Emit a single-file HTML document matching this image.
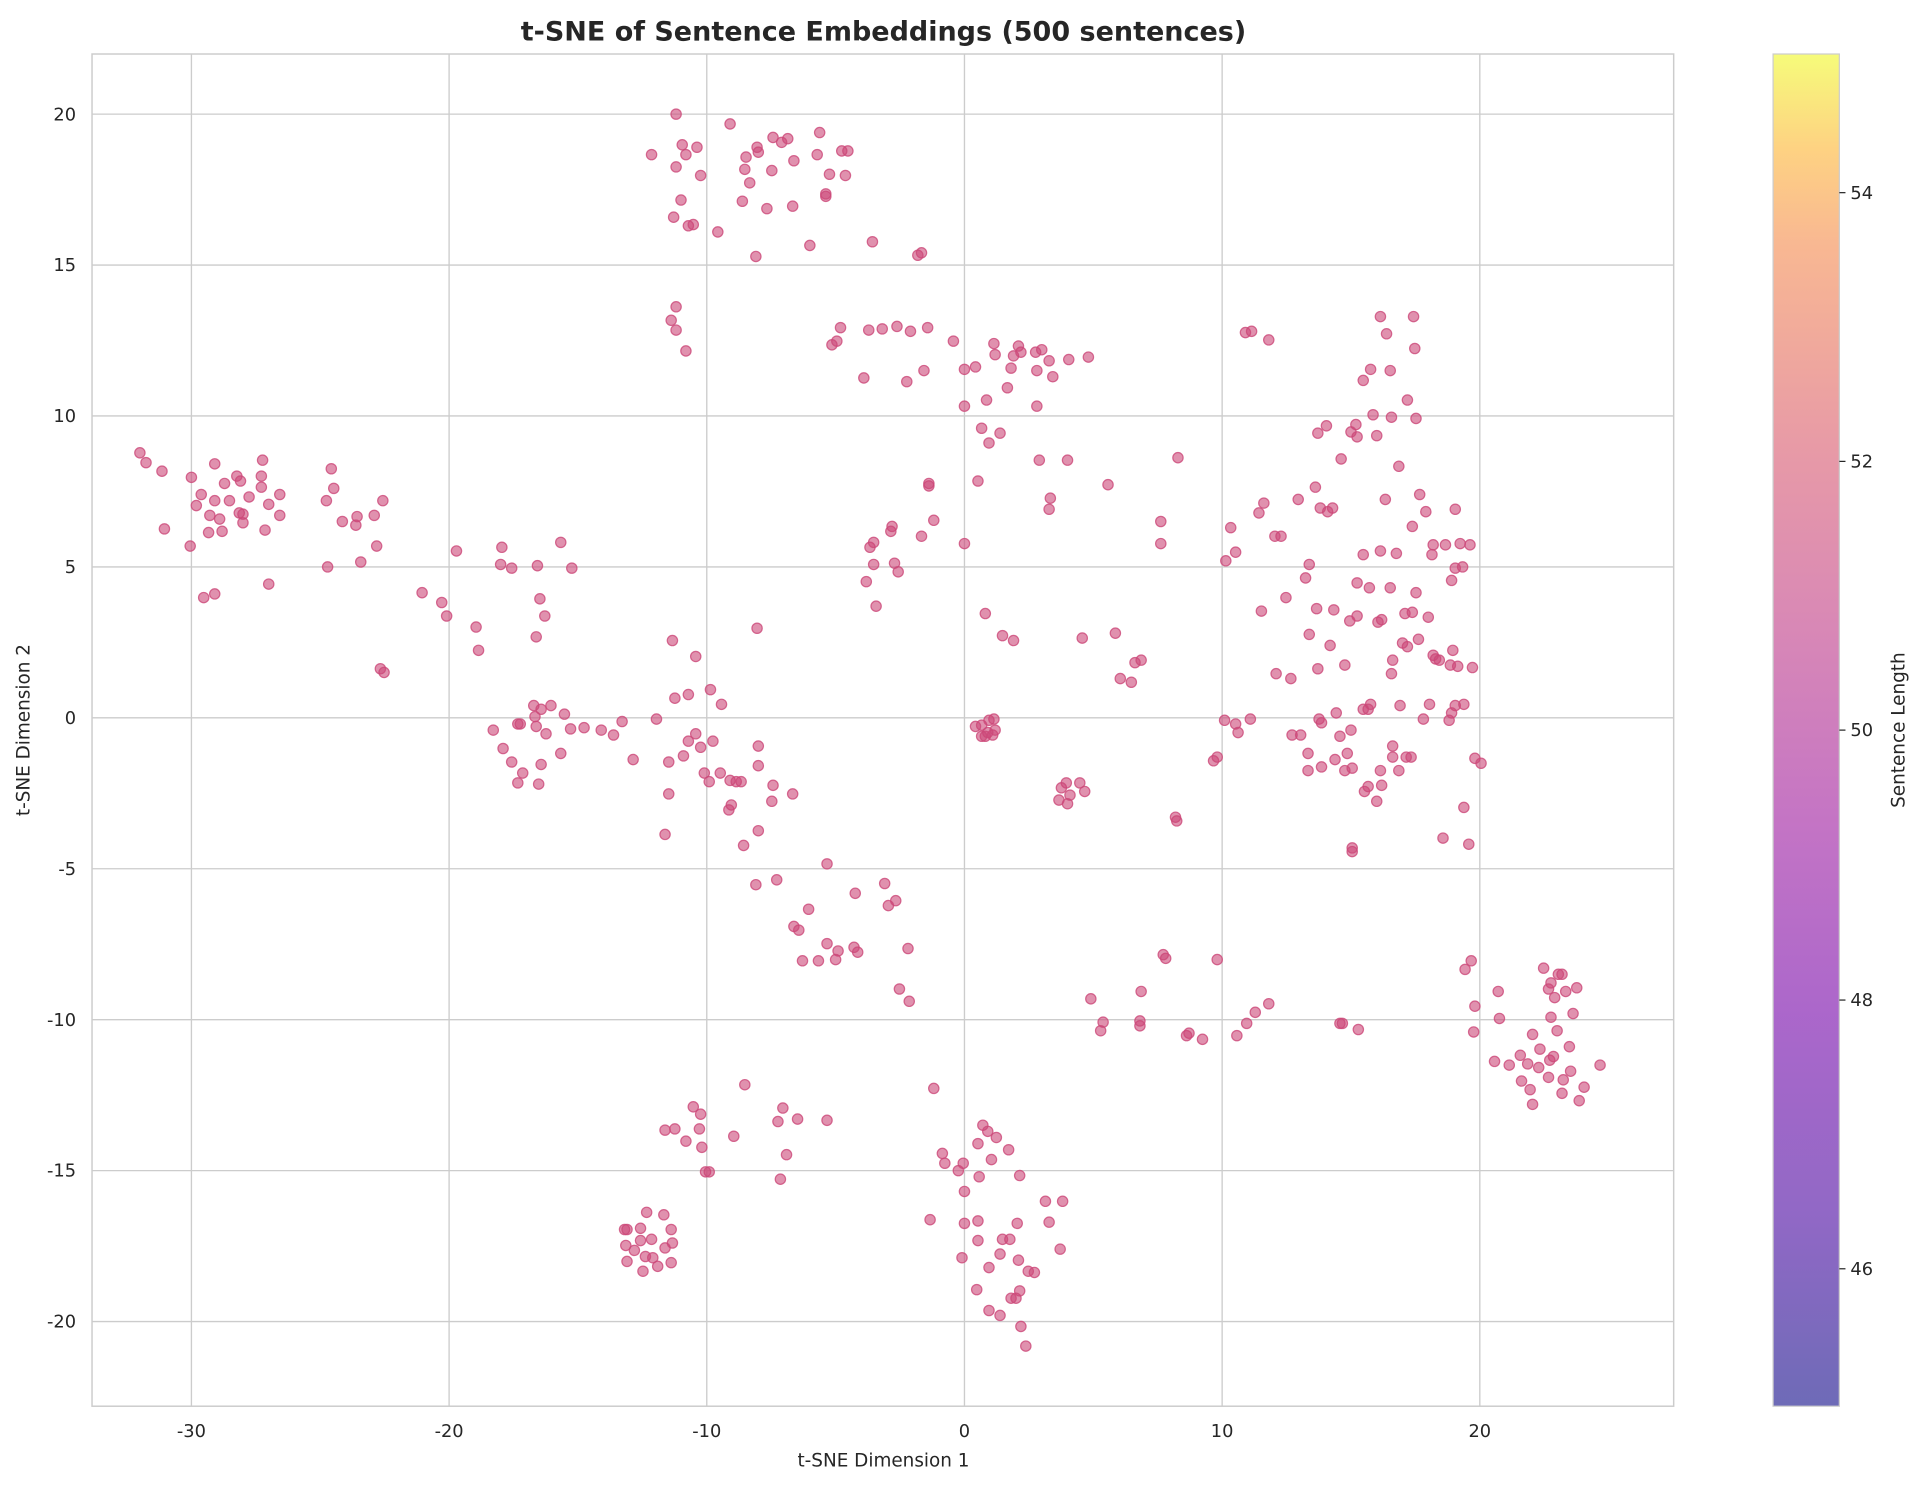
<!DOCTYPE html>
<html><head><meta charset="utf-8"><style>
html,body{margin:0;padding:0;background:#fff;}
svg{display:block;}
text{font-family:"DejaVu Sans","Liberation Sans",sans-serif;fill:#262626;}
</style></head><body>
<svg width="1924" height="1485" viewBox="0 0 1568 1210.2" xmlns="http://www.w3.org/2000/svg">
<defs>
<linearGradient id="pl" x1="0" y1="1" x2="0" y2="0">
<stop offset="0" stop-color="#0d0887"/><stop offset="0.14" stop-color="#47039f"/><stop offset="0.29" stop-color="#7301a8"/><stop offset="0.43" stop-color="#9c179e"/><stop offset="0.57" stop-color="#bd3786"/><stop offset="0.71" stop-color="#d8576b"/><stop offset="0.86" stop-color="#f48849"/><stop offset="0.93" stop-color="#fdb42f"/><stop offset="1" stop-color="#f0f921"/>
</linearGradient>
</defs>
<text x="720" y="33" text-anchor="middle" font-size="22" font-weight="bold">t-SNE of Sentence Embeddings (500 sentences)</text>
<g stroke="#cccccc" stroke-width="1.1">
<line x1="156" y1="44" x2="156" y2="1146"/><line x1="366" y1="44" x2="366" y2="1146"/><line x1="576" y1="44" x2="576" y2="1146"/><line x1="786" y1="44" x2="786" y2="1146"/><line x1="996" y1="44" x2="996" y2="1146"/><line x1="1206" y1="44" x2="1206" y2="1146"/>
<line x1="75" y1="93" x2="1364" y2="93"/><line x1="75" y1="216" x2="1364" y2="216"/><line x1="75" y1="339" x2="1364" y2="339"/><line x1="75" y1="462" x2="1364" y2="462"/><line x1="75" y1="585" x2="1364" y2="585"/><line x1="75" y1="708" x2="1364" y2="708"/><line x1="75" y1="831" x2="1364" y2="831"/><line x1="75" y1="954" x2="1364" y2="954"/><line x1="75" y1="1077" x2="1364" y2="1077"/>
</g>
<rect x="75" y="44" width="1289" height="1102" fill="none" stroke="#cccccc" stroke-width="1.2"/>
<g font-size="14.5" text-anchor="end">
<text x="62" y="98">20</text><text x="62" y="221">15</text><text x="62" y="344">10</text><text x="62" y="467">5</text><text x="62" y="590">0</text><text x="62" y="713">-5</text><text x="62" y="836">-10</text><text x="62" y="959">-15</text><text x="62" y="1082">-20</text>
</g>
<g font-size="14.5" text-anchor="middle">
<text x="156" y="1171">-30</text><text x="366" y="1171">-20</text><text x="576" y="1171">-10</text><text x="786" y="1171">0</text><text x="996" y="1171">10</text><text x="1206" y="1171">20</text>
</g>
<text x="720" y="1195" text-anchor="middle" font-size="15">t-SNE Dimension 1</text>
<text transform="translate(24,595) rotate(-90)" text-anchor="middle" font-size="15">t-SNE Dimension 2</text>
<g id="pts" fill="#cc4778" fill-opacity="0.6" stroke="#cc4778" stroke-width="1" stroke-opacity="0.8"></g>
<rect x="1445" y="44" width="54" height="1102" fill="url(#pl)" opacity="0.6"/>
<rect x="1445" y="44" width="54" height="1102" fill="none" stroke="#cccccc" stroke-width="1"/>
<g stroke="#262626" stroke-width="1"><line x1="1499" y1="157" x2="1504" y2="157"/><line x1="1499" y1="376" x2="1504" y2="376"/><line x1="1499" y1="595" x2="1504" y2="595"/><line x1="1499" y1="815" x2="1504" y2="815"/><line x1="1499" y1="1034" x2="1504" y2="1034"/></g>
<g font-size="14.5"><text x="1508" y="162">54</text><text x="1508" y="381">52</text><text x="1508" y="600">50</text><text x="1508" y="820">48</text><text x="1508" y="1039">46</text></g>
<text transform="translate(1552,595) rotate(-90)" text-anchor="middle" font-size="15">Sentence Length</text>
</svg>
<script>
var P=[551,93,595,101,559,126,531,126,568,120,556,118,608,128,630,112,637,116,642,113,668,108,686,123,691,123,647,131,666,126,617,120,618,124,551,136,571,143,607,138,629,139,611,149,676,142,689,143,673,158,673,160,646,168,625,170,605,164,555,163,549,177,561,184,565,183,585,189,616,209,660,200,711,197,748,208,751,206,
551,250,547,261,551,269,559,286,
685,267,682,278,678,281,708,269,719,268,731,266,742,270,756,267,777,278,810,280,830,282,849,285,871,293,887,291,832,287,844,287,826,290,811,289,795,299,786,301,753,302,739,311,704,308,824,300,855,294,845,302,858,307,821,316,786,331,845,331,804,326,800,349,815,353,806,361,847,375,870,375,757,394,757,396,761,424,797,392,903,395,856,406,855,415,751,437,786,443,712,442,709,446,727,429,726,433,729,459,732,466,712,460,706,474,714,494,
1015,271,1020,270,1034,277,1152,258,1125,258,1130,272,1153,284,1133,302,1117,301,1111,310,1147,326,1134,340,1154,341,1119,338,1105,346,1101,352,1081,347,1074,353,1106,356,1122,355,1140,380,1093,374,960,373,946,425,946,443,1030,410,1026,418,1072,397,1076,414,1058,407,1082,417,1086,414,1129,407,1157,403,1162,417,1186,415,1151,429,1168,444,1178,444,1198,444,1190,443,1039,437,1044,437,1003,430,999,457,1007,450,1067,460,1064,471,1111,452,1125,449,1138,451,1116,479,1133,479,1154,483,1145,500,1048,487,1028,498,1183,473,1186,463,1192,462,1167,452,1073,496,1087,497,1106,475,1100,506,1151,499,1123,507,1143,524,1135,538,1184,530,1170,537,1156,521,1147,527,1074,545,1106,502,1126,505,1164,503,1067,517,1084,526,1134,549,1096,542,1115,578,1101,595,1077,589,1060,599,1053,599,1040,549,1052,553,1089,581,1117,574,1111,578,1092,600,1075,586,1007,590,1019,586,1066,614,1088,619,1098,614,1112,645,1102,626,1066,628,1077,625,1096,628,1122,653,1135,617,1115,641,1125,628,1140,628,1102,694,1102,691,1126,640,1168,534,1173,538,1182,542,1188,543,1200,544,1202,618,1207,622,1165,574,1160,586,1141,575,1135,608,1146,617,1193,574,1183,581,1186,575,1181,587,1193,658,1197,688,1176,683,1150,617,
909,516,913,553,922,556,925,540,930,538,882,520,803,500,817,518,826,522,
800,591,806,587,810,586,809,599,805,597,803,600,800,600,795,592,811,595,998,587,1009,597,992,617,989,620,
865,642,869,638,880,638,872,648,884,645,870,655,863,652,958,666,959,669,
1199,783,1194,790,1202,820,1221,808,1222,830,1201,841,1258,789,1270,794,1264,801,1276,808,1285,805,1267,813,1262,806,1273,794,1249,843,1264,829,1282,826,1269,840,1279,853,1266,861,1263,864,1245,867,1255,855,1239,860,1230,868,1218,865,1254,870,1262,878,1247,888,1240,881,1274,880,1273,891,1287,897,1291,886,1304,868,1280,873,1249,900,
889,814,899,833,897,840,929,836,929,832,930,808,948,778,950,781,967,844,980,847,969,842,992,782,1008,844,1016,834,1023,825,1034,818,1094,834,1092,834,1107,839,
114,369,119,377,132,384,156,389,160,412,164,403,175,378,175,408,179,423,171,420,187,408,183,394,193,388,196,392,203,405,195,418,214,375,213,388,213,397,219,411,228,403,228,420,216,432,198,426,198,419,181,433,170,434,155,445,175,484,166,487,219,476,266,408,270,382,272,398,279,425,267,462,291,421,290,428,312,408,305,420,307,445,294,458,134,431,
310,545,313,548,344,483,360,491,364,502,372,449,388,511,390,530,409,446,408,460,417,463,438,461,440,488,437,519,444,502,457,442,466,463,
435,575,441,578,449,575,460,582,476,593,490,595,507,588,535,586,548,522,550,569,561,566,567,535,579,562,588,574,516,619,500,599,465,594,436,584,437,592,445,598,457,614,441,623,439,639,424,590,410,610,417,621,426,630,422,638,402,595,422,590,571,609,545,621,557,616,587,630,581,604,574,630,578,637,595,636,545,647,542,680,600,637,594,660,606,689,618,624,630,640,646,647,618,608,629,653,604,637,618,677,561,604,567,598,633,717,596,656,617,512,
616,721,674,704,659,741,647,755,651,758,674,769,667,783,654,783,681,782,696,772,699,776,721,720,724,738,730,734,740,773,733,806,741,816,697,728,683,775,
607,884,565,902,571,908,550,920,570,920,559,930,572,935,578,955,575,955,598,926,638,903,634,914,650,912,674,913,641,941,636,961,542,921,
511,1002,522,1001,527,988,541,990,547,1002,531,1010,517,1019,522,1011,510,1015,511,1028,526,1024,536,1032,548,1013,547,1029,524,1036,509,1002,542,1017,532,1025,
761,887,801,917,812,927,822,937,808,945,805,922,797,932,781,954,798,959,786,971,768,940,770,948,785,948,831,958,758,994,797,995,786,997,784,1025,817,1010,823,1010,829,997,852,979,866,979,855,996,864,1018,797,1011,806,1033,815,1022,830,1027,838,1036,843,1037,831,1052,828,1058,824,1058,796,1051,806,1068,815,1072,832,1081,836,1097];
var g=document.getElementById('pts'),s='';
for(var i=0;i<P.length;i+=2){s+='<circle cx="'+P[i]+'" cy="'+P[i+1]+'" r="4.2"/>';}
g.innerHTML=s;
</script>
</body></html>
